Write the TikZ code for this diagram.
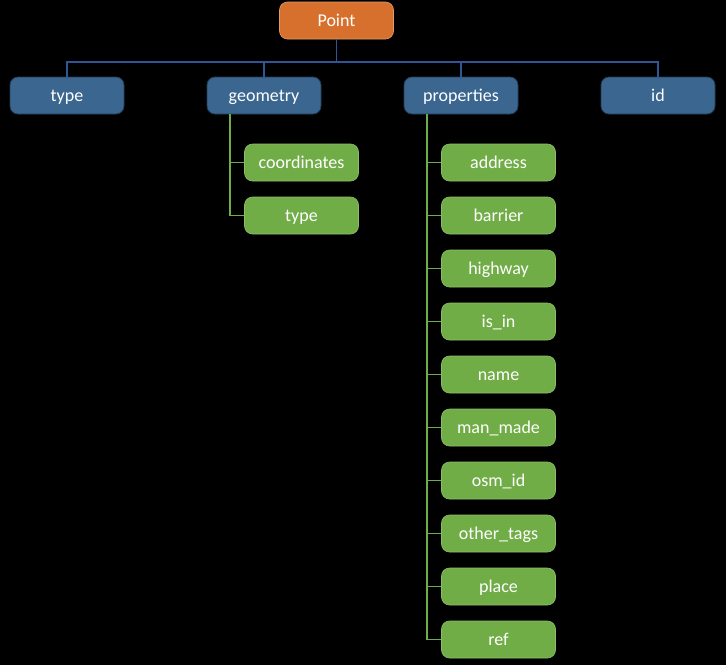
\documentclass[tikz,border=0pt]{standalone}
\usepackage{fontspec}
\setmainfont{Carlito}
\definecolor{bgc}{HTML}{000000}
\definecolor{orangec}{HTML}{D6702C}
\definecolor{bluec}{HTML}{3A6690}
\definecolor{greenc}{HTML}{70AD47}
\definecolor{bluel}{HTML}{2F5597}
\definecolor{greenl}{HTML}{70AD47}
\begin{document}
\begin{tikzpicture}[x=1pt,y=-1pt,
  box/.style={rounded corners=8pt,minimum width=114pt,minimum height=37pt,inner sep=0pt,
    text=white,font=\fontsize{18}{20}\selectfont,text height=13pt,text depth=2pt},
  rootbox/.style={box,fill=orangec,draw=orangec!70!white,line width=0.6pt},
  bluebox/.style={box,fill=bluec,draw=bluec!60!black,line width=0.8pt},
  greenbox/.style={box,fill=greenc,draw=greenc!80!white,line width=0.6pt},
  bline/.style={draw=bluel,line width=1.2pt},
  gline/.style={draw=greenl,line width=1.2pt}]
\fill[bgc] (0,0) rectangle (726,665);
\useasboundingbox (0,0) rectangle (726,665);
\node[rootbox] (point) at (336.5,20.5) {Point};
\node[bluebox] (type) at (67,95.5) {type};
\node[bluebox] (geom) at (264,95.5) {geometry};
\node[bluebox] (prop) at (461,95.5) {properties};
\node[bluebox] (id) at (658,95.5) {id};
\coordinate (hb) at (336.5,62);
\draw[bline] (point.south) -- (hb);
\foreach \n in {type,geom,prop,id}{
  \draw[bline] (\n.north) |- (hb);
}
% geometry children
\node[greenbox] (coord) at (301.5,162.5) {coordinates};
\node[greenbox] (gtype) at (301.5,215.5) {type};
\coordinate (gx) at (230,114);
\draw[gline] (gx) |- (gtype.west);
\draw[gline] (coord.west) -- (coord.west -| gx);
% properties children
\foreach \nm/\t [count=\i from 0] in {address/address,barrier/barrier,highway/highway,isin/is\_in,name/name,manmade/man\_made,osmid/osm\_id,othertags/other\_tags,place/place,ref/ref}{
  \node[greenbox] (\nm) at (498.5,{162.5+53*\i}) {\t};
}
\coordinate (px) at (427,114);
\draw[gline] (px) |- (ref.west);
\foreach \nm in {address,barrier,highway,isin,name,manmade,osmid,othertags,place}{
  \draw[gline] (\nm.west) -- (\nm.west -| px);
}
\end{tikzpicture}
\end{document}
